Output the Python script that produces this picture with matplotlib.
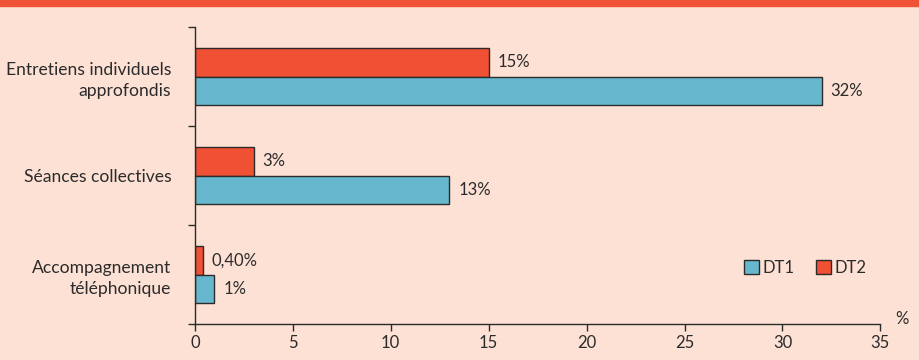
import numpy as np
import matplotlib.pyplot as plt

# === DATA ===
categories = ['Entretiens individuels\napprofondis', 'Séances collectives', 'Accompagnement\ntéléphonique']
dt1 = [32, 13, 1]
dt2 = [15, 3, 0.4]
dt1_labels = ['32%', '13%', '1%']
dt2_labels = ['15%', '3%', '0,40%']
xticks = [0, 5, 10, 15, 20, 25, 30, 35]

bg = '#FDE1D5'
red = '#F05033'
blue = '#67B8CF'
dark = '#2b2b2b'

plt.rcParams['font.family'] = ['Lato', 'DejaVu Sans']

fig = plt.figure(figsize=(9.19, 3.6), dpi=100)
fig.patch.set_facecolor(bg)
ax = fig.add_axes([0.212, 0.1, 0.746, 0.825])
ax.set_facecolor(bg)

# top banner
fig.patches.append(plt.Rectangle((0, 0.983), 1, 0.017, transform=fig.transFigure,
                                 color='#EF5235', zorder=0))

pos = np.arange(len(categories))[::-1]
h = 0.29
ax.barh(pos + h / 2, dt2, height=h, color=red, edgecolor=dark, linewidth=1, label='DT2')
ax.barh(pos - h / 2, dt1, height=h, color=blue, edgecolor=dark, linewidth=1, label='DT1')

fs = 12
for p, v, t in zip(pos, dt2, dt2_labels):
    ax.text(v + 0.45, p + h / 2, t, va='center', ha='left', fontsize=fs, color=dark)
for p, v, t in zip(pos, dt1, dt1_labels):
    ax.text(v + 0.45, p - h / 2, t, va='center', ha='left', fontsize=fs, color=dark)

ax.set_xlim(0, 35)
ax.set_ylim(-0.5, 2.5)
ax.set_xticks(xticks)
ax.set_xticklabels([str(x) for x in xticks], fontsize=fs, color=dark)
ax.set_yticks([-0.5, 0.5, 1.5, 2.5])
ax.set_yticklabels([])
ax.set_yticks(pos, minor=True)
ax.set_yticklabels(categories, minor=True, fontsize=12.6, color=dark, ha='right',
                   multialignment='right', linespacing=1.35)
ax.tick_params(axis='y', which='minor', length=0, pad=17)
ax.tick_params(axis='y', which='major', length=5, color=dark, width=1)
ax.tick_params(axis='x', length=5, color=dark, width=1, pad=3)

for s in ['top', 'right']:
    ax.spines[s].set_visible(False)
for s in ['left', 'bottom']:
    ax.spines[s].set_color(dark)
    ax.spines[s].set_linewidth(1)

ax.text(1.022, -0.01, '%', transform=ax.transAxes, fontsize=fs, color=dark,
        ha='left', va='bottom')

handles, labels = ax.get_legend_handles_labels()
leg = ax.legend(handles[::-1], labels[::-1], loc='center', bbox_to_anchor=(0.89, 0.19),
                ncol=2, frameon=False, fontsize=fs, handlelength=0.9, handleheight=0.9,
                handletextpad=0.2, columnspacing=1.3)
for t in leg.get_texts():
    t.set_color(dark)

plt.savefig('out.png', dpi=100, facecolor=bg)
